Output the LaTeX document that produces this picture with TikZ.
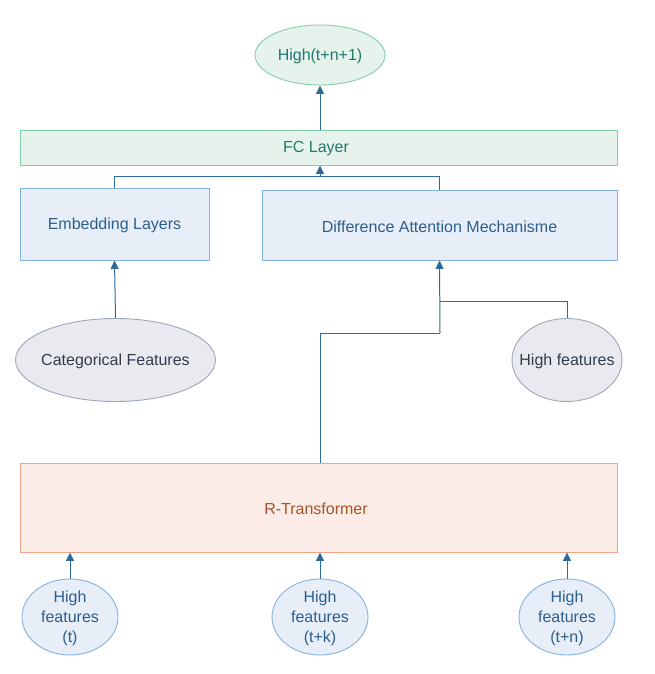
\documentclass[tikz,border=0pt]{standalone}
\usepackage{fontspec}
\setmainfont{Liberation Sans}
\usetikzlibrary{shapes.geometric,arrows.meta}
\definecolor{lnc}{HTML}{2E6B9A}
\definecolor{grfill}{HTML}{E6F2EC}
\definecolor{grdraw}{HTML}{86CDAA}
\definecolor{grtext}{HTML}{1E7B6B}
\definecolor{blfill}{HTML}{E7EEF8}
\definecolor{bldraw}{HTML}{82B2E2}
\definecolor{bltext}{HTML}{2C5F8C}
\definecolor{gyfill}{HTML}{E8EAEF}
\definecolor{gydraw}{HTML}{9DA7B7}
\definecolor{gytext}{HTML}{323C4A}
\definecolor{orfill}{HTML}{FBECE8}
\definecolor{ordraw}{HTML}{F2A389}
\definecolor{ortext}{HTML}{A9532A}
\tikzset{
  lbl/.style={font=\fontsize{16}{20}\selectfont, align=center, inner sep=0pt, yshift=-1.5pt},
  box/.style={rectangle, draw, line width=0.9pt, inner sep=0pt},
  ell/.style={ellipse, draw, line width=0.9pt, inner sep=0pt},
  greenbox/.style={box, fill=grfill, draw=grdraw},
  bluebox/.style={box, fill=blfill, draw=bldraw},
  orbox/.style={box, fill=orfill, draw=ordraw},
  greenell/.style={ell, fill=grfill, draw=grdraw},
  grayell/.style={ell, fill=gyfill, draw=gydraw},
  blueell/.style={ell, fill=blfill, draw=bldraw},
  conn/.style={draw=lnc, line width=1pt, -{Triangle[width=8pt,length=8.5pt]}},
  seg/.style={draw=lnc, line width=1pt},
}
\begin{document}
\begin{tikzpicture}[x=1pt,y=-1pt]
\useasboundingbox (0,0) rectangle (655,674);
% nodes
\node[greenell, minimum width=130, minimum height=60,
  label={[lbl, text=grtext]center:High(t+n+1)}] (out) at (320,55) {};
\node[greenbox, minimum width=597, minimum height=35,
  label={[lbl, text=grtext, xshift=-2.5pt]center:FC Layer}] (fc) at (318.5,147.5) {};
\node[bluebox, minimum width=189, minimum height=72,
  label={[lbl, text=bltext]center:Embedding Layers}] (emb) at (114.5,224) {};
\node[bluebox, minimum width=355, minimum height=70,
  label={[lbl, text=bltext]center:Difference Attention Mechanisme}] (dam) at (439.5,225) {};
\node[grayell, minimum width=200, minimum height=83,
  label={[lbl, text=gytext]center:Categorical Features}] (cat) at (115.5,360) {};
\node[grayell, minimum width=110, minimum height=83,
  label={[lbl, text=gytext]center:High features}] (hf) at (567,360) {};
\node[orbox, minimum width=597, minimum height=89,
  label={[lbl, text=ortext, xshift=-2.5pt]center:R-Transformer}] (rt) at (318.5,507.5) {};
\node[blueell, minimum width=96, minimum height=76,
  label={[lbl, text=bltext]center:{High\\features\\(t)}}] (h1) at (70,617) {};
\node[blueell, minimum width=96, minimum height=76,
  label={[lbl, text=bltext]center:{High\\features\\(t+k)}}] (h2) at (320,617) {};
\node[blueell, minimum width=96, minimum height=76,
  label={[lbl, text=bltext]center:{High\\features\\(t+n)}}] (h3) at (567,617) {};
% junction coordinates
\coordinate (j1) at (320,176);
\coordinate (j2) at (440,301);
\coordinate (j3) at (440,333);
% connectors
\draw[conn] (fc.north -| out.south) -- (out.south);
\draw[seg] (emb.north) |- (j1);
\draw[seg] (dam.north) |- (j1);
\draw[conn] (j1) -- (j1 |- fc.south);
\draw[conn] (cat.north) -- (emb.south);
\draw[seg] (hf.north) |- (j2);
\draw[seg] (rt.north -| out.south) |- (j3);
\draw[conn] (j3) -- (dam.south);
\draw[conn] (h1.north) -- (h1.north |- rt.south);
\draw[conn] (h2.north) -- (h2.north |- rt.south);
\draw[conn] (h3.north) -- (h3.north |- rt.south);
\end{tikzpicture}
\end{document}
